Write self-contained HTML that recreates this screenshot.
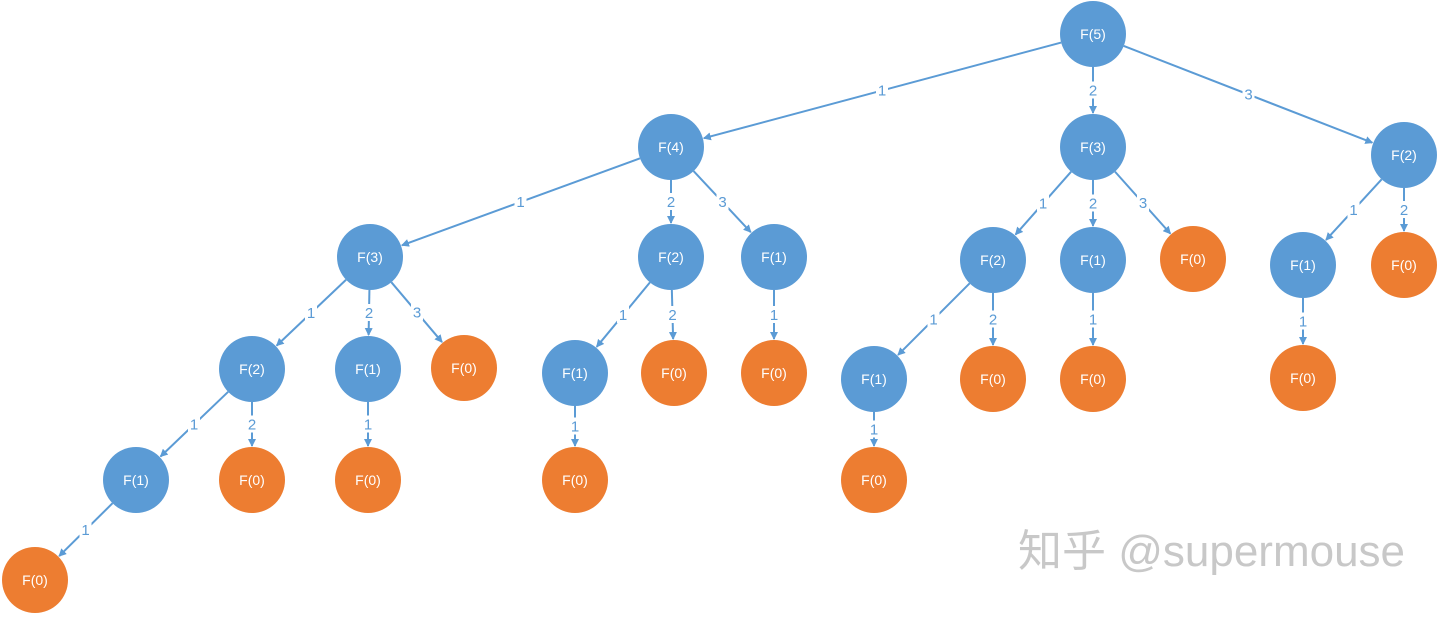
<!DOCTYPE html>
<html><head><meta charset="utf-8"><style>
body{margin:0;background:#fff;width:1440px;height:617px;overflow:hidden}
svg{display:block}
text{font-family:"Liberation Sans","DejaVu Sans",sans-serif}
</style></head><body>
<svg id="s" width="1440" height="617" xmlns="http://www.w3.org/2000/svg">
<defs><marker id="a" markerWidth="8" markerHeight="8" refX="7" refY="4" orient="auto" markerUnits="userSpaceOnUse"><path d="M0,0 L8,4 L0,8 z" fill="#5b9bd5"/></marker></defs>
<g id="e"></g><g id="n"></g>
<text x="1018" y="566" font-family="'Liberation Sans','Noto Sans CJK SC',sans-serif" font-size="44" fill="#c8c8c8">知乎 @supermouse</text>
</svg>
<script>
var N={a:[1093,34,'F(5)',1],b:[671,147,'F(4)',1],c:[1093,147,'F(3)',1],d:[1404,155,'F(2)',1],
e:[370,257,'F(3)',1],f:[671,257,'F(2)',1],g:[774,257,'F(1)',1],h:[993,260,'F(2)',1],i:[1093,260,'F(1)',1],j:[1193,259,'F(0)',0],
k:[1303,265,'F(1)',1],l:[1404,265,'F(0)',0],
m:[252,369,'F(2)',1],o:[368,369,'F(1)',1],p:[464,368,'F(0)',0],q:[575,373,'F(1)',1],r:[674,373,'F(0)',0],s:[774,373,'F(0)',0],
t:[874,379,'F(1)',1],u:[993,379,'F(0)',0],v:[1093,379,'F(0)',0],w:[1303,378,'F(0)',0],
x:[136,480,'F(1)',1],y:[252,480,'F(0)',0],z:[368,480,'F(0)',0],A:[575,480,'F(0)',0],B:[874,480,'F(0)',0],C:[35,580,'F(0)',0]};
var E=[['a','b',1],['a','c',2],['a','d',3],['b','e',1],['b','f',2],['b','g',3],['c','h',1],['c','i',2],['c','j',3],['d','k',1],['d','l',2],
['e','m',1],['e','o',2],['e','p',3],['f','q',1],['f','r',2],['g','s',1],['h','t',1],['h','u',2],['i','v',1],['k','w',1],
['m','x',1],['m','y',2],['o','z',1],['q','A',1],['t','B',1],['x','C',1]];
var R=33,ns='http://www.w3.org/2000/svg',ge=document.getElementById('e'),gn=document.getElementById('n');
function el(t,a,p){var x=document.createElementNS(ns,t);for(var k in a)x.setAttribute(k,a[k]);p.appendChild(x);return x}
E.forEach(function(q){var A=N[q[0]],B=N[q[1]],dx=B[0]-A[0],dy=B[1]-A[1],L=Math.hypot(dx,dy),ux=dx/L,uy=dy/L;
el('line',{x1:A[0]+ux*R,y1:A[1]+uy*R,x2:B[0]-ux*(R+1),y2:B[1]-uy*(R+1),stroke:'#5b9bd5','stroke-width':2,'marker-end':'url(#a)'},ge);
var mx=(A[0]+ux*R+B[0]-ux*R)/2,my=(A[1]+uy*R+B[1]-uy*R)/2;
el('rect',{x:mx-6,y:my-9,width:12,height:17,fill:'#fff'},ge);
var t=el('text',{x:mx,y:my+5,'text-anchor':'middle','font-size':15,fill:'#5b9bd5'},ge);t.textContent=q[2];});
for(var k in N){var v=N[k];el('circle',{cx:v[0],cy:v[1],r:R,fill:v[3]?'#5b9bd5':'#ed7d31'},gn);
var t=el('text',{x:v[0],y:v[1]+5,'text-anchor':'middle','font-size':14,fill:'#fff'},gn);t.textContent=v[2];}
</script>
</body></html>
